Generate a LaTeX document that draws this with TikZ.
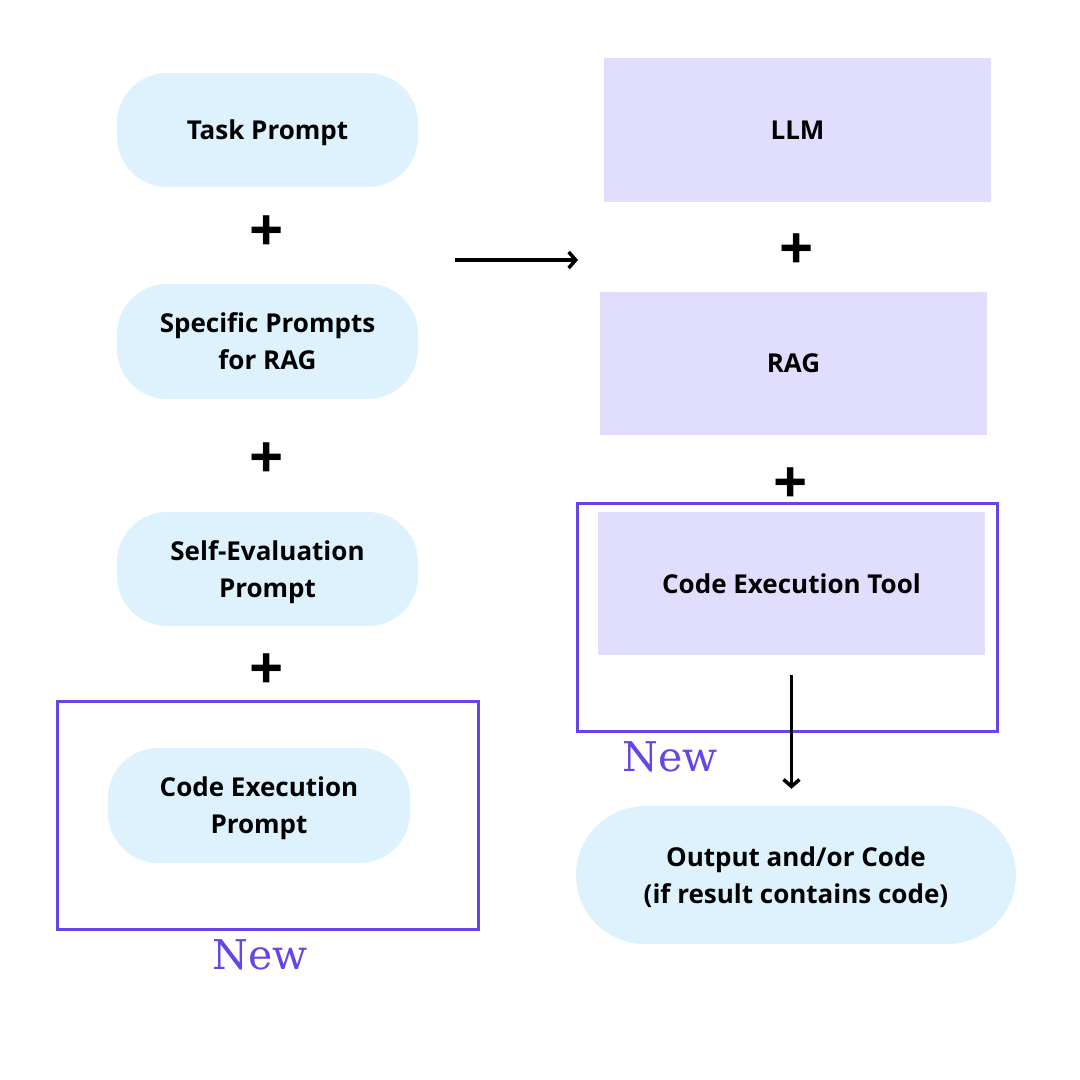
\documentclass[tikz,border=0pt]{standalone}
\usepackage{fontspec}
\setmainfont{Open Sans}
\newfontfamily\newlblfont{DejaVu Serif}
\usetikzlibrary{arrows.meta}
\definecolor{promptblue}{HTML}{DDF2FD}
\definecolor{blocklilac}{HTML}{E1DDFD}
\definecolor{newpurple}{HTML}{6744E6}
\begin{document}
\begin{tikzpicture}[x=1pt,y=-1pt]

      \useasboundingbox (0,0) rectangle (1080,1080);

      \begin{scope}[every node/.style={align=center, text depth=0pt, font=\bfseries\fontsize{26}{37}\selectfont}]
        % left column
        \node[fill=promptblue, rounded corners=50pt, minimum width=301pt, minimum height=114pt] (task) at (267.5,130) {Task Prompt};
        \node[fill=promptblue, rounded corners=50pt, minimum width=301pt, minimum height=115pt] (spec) at (267.5,341.5) {Specific Prompts\\for RAG};
        \node[fill=promptblue, rounded corners=50pt, minimum width=301pt, minimum height=114pt] (self) at (267.5,569) {Self-Evaluation\\Prompt};
        \node[draw=newpurple, line width=3pt, minimum width=421pt, minimum height=228pt] (leftframe) at (267.5,815) {};
        \node[fill=promptblue, rounded corners=50pt, minimum width=302pt, minimum height=115pt] (codep) at (259,805.5) {Code Execution\\Prompt};
        % right column
        \node[fill=blocklilac, minimum width=387pt, minimum height=144pt] (llm) at (797.5,130) {LLM};
        \node[fill=blocklilac, minimum width=387pt, minimum height=143pt] (rag) at (793.5,363.5) {RAG};
        \node[draw=newpurple, line width=3pt, minimum width=420pt, minimum height=228pt] (rightframe) at (787,617) {};
        \node[fill=blocklilac, minimum width=387pt, minimum height=143pt] (tool) at (791.5,583.5) {Code Execution Tool};
        \node[fill=promptblue, rounded corners=69pt, minimum width=440pt, minimum height=138pt] (output) at (796,875) {Output and/or Code\\(if result contains code)};
      \end{scope}

      \begin{scope}[every node/.style={font=\bfseries\fontsize{60}{60}\selectfont}]
        \node (p1) at (267,234) {+};
        \node (p2) at (267,461) {+};
        \node (p3) at (267,672) {+};
        \node (p4) at (797,252) {+};
        \node (p5) at (791,486) {+};
      \end{scope}

      \begin{scope}[every node/.style={text=newpurple, font=\newlblfont\fontsize{41}{41}\selectfont}]
        \node (newl) at (260,955) {New};
        \node (newr) at (670,757) {New};
      \end{scope}

      \begin{scope}[line width=3.5pt, -{Straight Barb[length=7pt,width=16pt]}]
        \coordinate (from) at (455,260);
        \coordinate (to) at (578,260);
        \draw (from) -- (to);
        \draw[shorten <=20pt, shorten >=17pt] (tool.south) -- (tool.south |- output.north);
      \end{scope}

    \end{tikzpicture}
\end{document}
